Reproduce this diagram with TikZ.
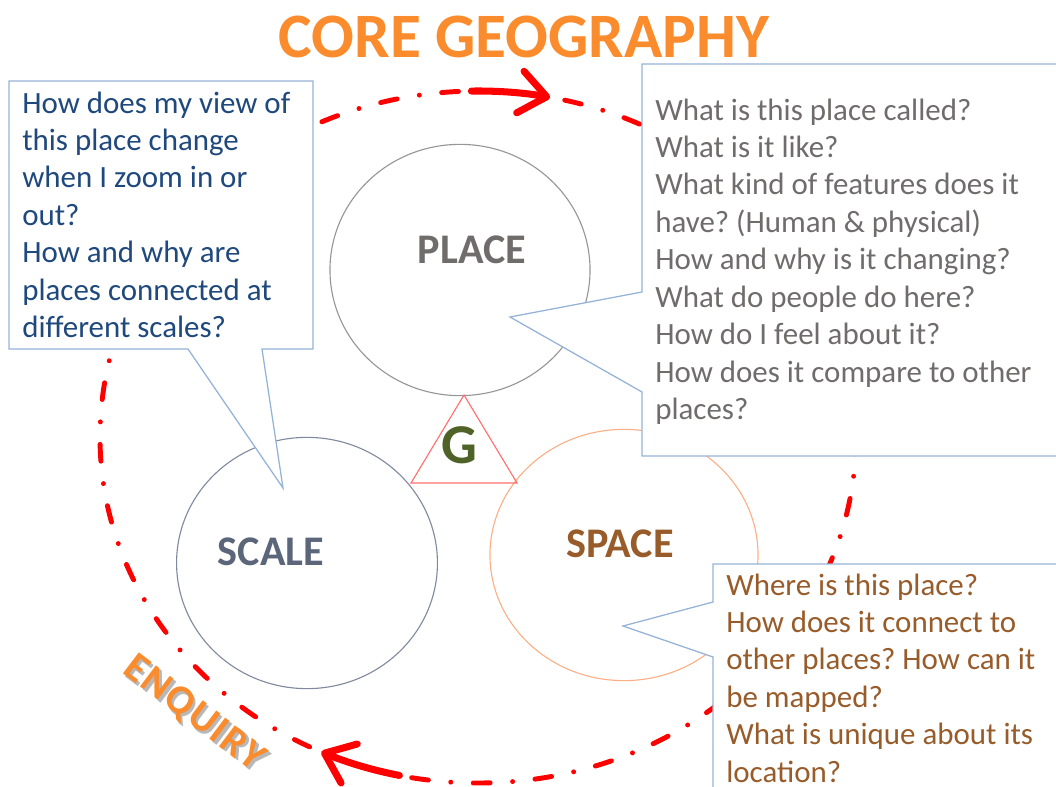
\documentclass[tikz,border=0pt]{standalone}
\usepackage{fontspec}
\setmainfont{Carlito}
\usetikzlibrary{arrows.meta,shapes.geometric}
\definecolor{geoorange}{RGB}{250,140,45}
\definecolor{geored}{RGB}{255,0,0}
\definecolor{geoblue}{RGB}{149,179,215}
\definecolor{geonavy}{RGB}{31,73,125}
\definecolor{geogray}{RGB}{112,108,108}
\definecolor{geobrown}{RGB}{152,92,42}
\definecolor{geoslate}{RGB}{92,102,122}
\definecolor{geogreen}{RGB}{79,98,40}
\definecolor{ringgray}{RGB}{150,150,150}
\definecolor{ringslate}{RGB}{128,138,158}
\definecolor{ringpeach}{RGB}{250,175,135}
\definecolor{tripink}{RGB}{255,110,110}
\frenchspacing

\begin{document}
\begin{tikzpicture}[x=0.025cm, y=-0.025cm,
    cycle/.style={draw=geored, line width=3.5pt, line cap=round, dash pattern=on 12pt off 16pt on 0pt off 16pt},
    cyclehead/.style={draw=geored, line width=5pt, line cap=round, -{Straight Barb[length=19pt,width=30pt,round]}},
    ring/.style={draw, ellipse, line width=0.8pt, minimum height=6.28cm},
    ringlabel/.style={font=\fontsize{30}{36}\selectfont\bfseries},
    callout/.style={draw=geoblue, fill=white, line width=0.9pt},
    question/.style={font=\fontsize{22}{26.6}\selectfont, align=left, anchor=north west, inner sep=0pt},
    enquiry/.style={font=\fontsize{29}{34}\selectfont\bfseries\addfontfeature{LetterSpace=4}, rotate=-37}
  ]
  \useasboundingbox (0,0) rectangle (1056,787);

  \node[font=\fontsize{45}{54}\selectfont\bfseries, text=geoorange, anchor=base] (title) at (524,58) {CORE GEOGRAPHY};

  % enquiry cycle
  \draw[cycle] (478,437) ellipse [x radius=378, y radius=346];
  \draw[cyclehead] (478,437) ++(-91:378 and 346) arc[start angle=-91, end angle=-79, x radius=378, y radius=346];
  \draw[cyclehead] (478,437) ++(102:378 and 346) arc[start angle=102, end angle=114.5, x radius=378, y radius=346];
  \node[enquiry, text=black!28] (enquiryshadow) at (196.5,716.5) {ENQUIRY};
  \node[enquiry, text=geoorange] (enquiry) at (194,714) {ENQUIRY};

  \node[ring, draw=ringgray, minimum width=6.5cm] (place) at (460,270) {};
  \node[ring, draw=ringslate, minimum width=6.52cm] (scale) at (307,563) {};
  \node[ring, draw=ringpeach, minimum width=6.7cm] (space) at (624,555) {};
  \node[ringlabel, text=geogray] (placetxt) at (472,249.5) {PLACE};
  \node[ringlabel, text=geoslate] (scaletxt) at (271,552) {SCALE};
  \node[ringlabel, text=geobrown] (spacetxt) at (620,543.5) {SPACE};

  \draw[tripink, line width=0.8pt] (464,395) -- (517,483) -- (411,483) -- cycle;
  \node[font=\fontsize{40}{48}\selectfont\bfseries, text=geogreen] (g) at (459,445) {G};

  \draw[callout] (9,81) -- (313,81) -- (313,349) -- (262,349) -- (283,488) -- (188,349) -- (9,349) -- cycle;
  \node[question, text=geonavy] (scaleq) at (22,86.7) {\strut How does my view of\\this place change\\when I zoom in or\\out?\\How and why are\\places connected at\\different scales?};

  \draw[callout] (642,64) -- (1070,64) -- (1070,456) -- (642,456) -- (642,392) -- (510,317) -- (642,292) -- cycle;
  \node[question, text=geogray] (placeq) at (655,93.7) {\strut What is this place called?\\What is it like?\\What kind of features does it\\have? (Human \& physical)\\How and why is it changing?\\What do people do here?\\How do I feel about it?\\How does it compare to other\\places?};

  \draw[callout] (713,564) -- (1070,564) -- (1070,800) -- (713,800) -- (713,657) -- (623,626) -- (713,602) -- cycle;
  \node[question, text=geobrown] (spaceq) at (726,568.7) {\strut Where is this place?\\How does it connect to\\other places? How can it\\be mapped?\\What is unique about its\\location?};
\end{tikzpicture}
\end{document}
